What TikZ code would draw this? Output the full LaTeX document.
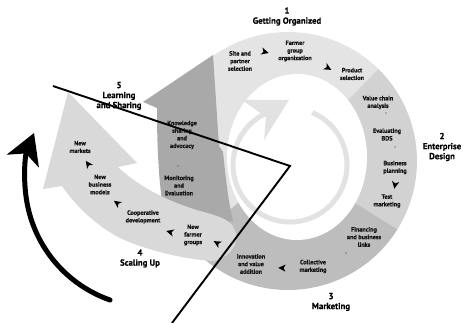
\documentclass[tikz,border=0pt]{standalone}
\usepackage{fontspec}
\setmainfont{PT Sans}
\newfontfamily\stepfont{PT Sans}[BoldFeatures={FakeBold=0.9}]
\newfontfamily\phasefont{PT Sans}[BoldFeatures={FakeBold=0.4}]
\usetikzlibrary{arrows.meta,calc}

\definecolor{orgfill}{HTML}{E4E4E4}
\definecolor{designfill}{HTML}{D2D2D2}
\definecolor{marketfill}{HTML}{BDBDBD}
\definecolor{learnfill}{HTML}{A9A9A9}
\definecolor{scalefill}{HTML}{D9D9D9}
\definecolor{cyclefill}{HTML}{E2E2E2}

\tikzset{
  phaselabel/.style={font=\phasefont\fontsize{8.8}{10}\selectfont\bfseries, align=center, inner sep=0pt, text=black},
  steplabel/.style={font=\stepfont\fontsize{6.2}{7.6}\selectfont\bfseries, align=center, inner sep=0pt, text=black!92},
  dirmark/.pic={\fill[black] (3.8,0) -- (-3.6,-3.6) -- (-1.6,0) -- (-3.6,3.6) -- cycle;},
  stepdot/.style={fill=black!85},
  guideline/.style={draw=black, line width=1.9pt},
  bigturn/.style={draw=black, line width=5pt, line cap=round,
    -{Stealth[length=30pt, width=34pt, inset=8pt]}},
}

\begin{document}
\begin{tikzpicture}[x=1pt, y=-1pt]
\useasboundingbox (0,0) rectangle (467,323);

% ring sectors around the centre of the spiral
\coordinate (C) at (288,161);
\fill[orgfill] (C) -- ++(-45.5:129) arc[start angle=-45.5, end angle=-222, radius=129] -- cycle;
\fill[designfill] (C) -- ++(32:129) arc[start angle=32, end angle=-45.5, radius=129] -- cycle;
\fill[marketfill] (C) -- ++(140:129) arc[start angle=140, end angle=32, radius=129] -- cycle;

% learning and sharing arrow (inner left band)
\fill[learnfill] (143,102) -- (213,55) -- (219,146) -- (223,152)
  .. controls (226,180) and (228,200) .. (233,221) -- (200,226) -- (162,202)
  .. controls (158,170) and (157,140) .. (157,108) -- cycle;

% scaling up arrow (outer left band)
\fill[scalefill] (68,92) -- (137,163) -- (118,167)
  .. controls (135,183) and (160,199) .. (200,211)
  .. controls (215,215) and (225,218) .. (231,224)
  .. controls (242,236) and (236,255) .. (214,261)
  .. controls (190,260) and (150,252) .. (120,238)
  .. controls (95,225) and (75,205) .. (62,186)
  -- (43,189) -- cycle;

% white core
\fill[white] (297,157) ellipse[x radius=70, y radius=83];

% inner cycle arrow
\draw[cyclefill, line width=5pt] (290,165) ++(-67:57) arc[start angle=-67, end angle=244, radius=57];
\fill[cyclefill] (289,100) -- (242,100) -- (266,117) -- (264,140) -- cycle;

% phase titles
\node[phaselabel] (p1) at (287,16.5) {1\\Getting Organized};
\node[phaselabel] (p2) at (442,147) {2\\Enterprise\\Design};
\node[phaselabel] (p3) at (331,302) {3\\Marketing};
\node[phaselabel] (p4) at (140,258.5) {4\\Scaling Up};
\node[phaselabel] (p5) at (119,96) {5\\Learning\\and Sharing};

% steps
\node[steplabel] (s1) at (240,61) {Site and\\partner\\selection};
\node[steplabel] (s2) at (295,51) {Farmer\\group\\organization};
\node[steplabel] (s3) at (352,74) {Product\\selection};
\node[steplabel] (s4) at (378,102.5) {Value chain\\analysis};
\node[steplabel] (s5) at (387,134.5) {Evaluating\\BDS};
\node[steplabel] (s6) at (395,167.5) {Business\\planning};
\node[steplabel] (s7) at (387,201) {Test\\marketing};
\node[steplabel] (s8) at (364,237) {Financing\\and business\\links};
\node[steplabel] (s9) at (313,266.5) {Collective\\marketing};
\node[steplabel] (s10) at (251,264) {Innovation\\and value\\addition};
\node[steplabel] (s11) at (193,235) {New\\farmer\\groups};
\node[steplabel] (s12) at (143,217) {Cooperative\\development};
\node[steplabel] (s13) at (100,184.5) {New\\business\\models};
\node[steplabel] (s14) at (80,147) {New\\markets};
\node[steplabel] (s15) at (182,135) {Knowledge\\sharing\\and\\advocacy};
\node[steplabel] (s16) at (179,185.5) {Monitoring\\and\\Evaluation};

% small separators
\fill[stepdot] (386,113) circle (0.65);
\fill[stepdot] (395,147) circle (0.65);
\fill[stepdot] (346,253) circle (0.65);
\fill[stepdot] (178,166) circle (0.65);

% direction marks along the spiral
\pic[rotate=-15] at (265,52) {dirmark};
\pic[rotate=-30] at (328,68) {dirmark};
\pic[rotate=-100] at (395,185) {dirmark};
\pic[rotate=178] at (282,268) {dirmark};
\pic[rotate=150] at (217,243) {dirmark};
\pic[rotate=165] at (170,232) {dirmark};
\pic[rotate=145] at (117,203) {dirmark};
\pic[rotate=125] at (88,164) {dirmark};

% black guide lines
\coordinate (g1) at (53,86);
\coordinate (g2) at (290,166);
\coordinate (g3) at (172,323);
\draw[guideline] (g1) -- (g2) -- (g3);

% outer turning arrow
\coordinate (t0) at (110,300);
\draw[bigturn] (t0) arc[start angle=109.3, end angle=201.8, radius=127];
\end{tikzpicture}
\end{document}
